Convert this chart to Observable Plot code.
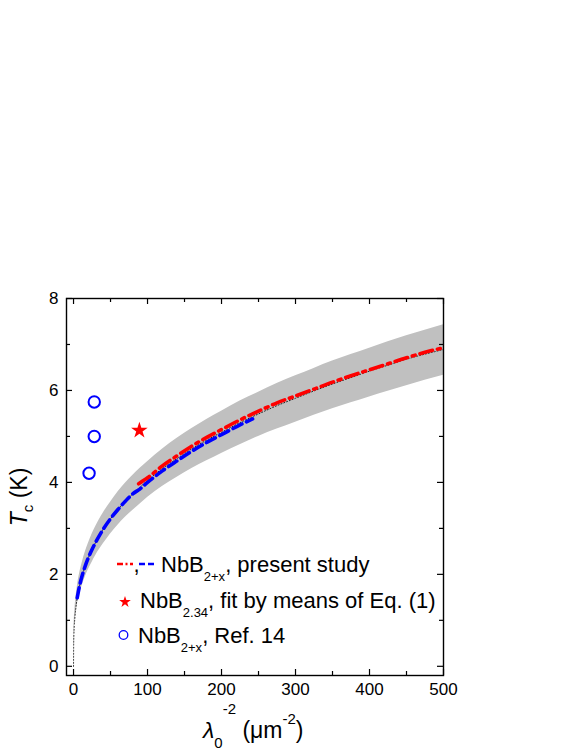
<!DOCTYPE html>
<html><head><meta charset="utf-8">
<script src="https://cdn.jsdelivr.net/npm/d3@7"></script>
<script src="https://cdn.jsdelivr.net/npm/@observablehq/plot@0.6"></script>
<style>body{margin:0;background:#fff}#chart{width:581px;height:752px}</style>
</head><body><div id="chart"></div>
<script>
// Fit curve (dotted) and its uncertainty band
const fitX = [0, 0.2, 0.5, 1, 2, 3, 5, 8, 12, 16, 20, 25, 30, 40, 50, 60, 70, 80, 90, 100, 120, 140, 160, 180, 200, 225, 250, 275, 300, 325, 350, 375, 400, 425, 450, 475, 500];
const fitY = [0, 0.51, 0.69, 0.87, 1.09, 1.25, 1.49, 1.74, 1.99, 2.19, 2.36, 2.54, 2.70, 2.98, 3.21, 3.41, 3.59, 3.75, 3.90, 4.04, 4.30, 4.52, 4.73, 4.92, 5.09, 5.30, 5.49, 5.67, 5.83, 5.99, 6.14, 6.28, 6.42, 6.55, 6.68, 6.79, 6.89];
const bandHigh = [0, 0.62, 0.83, 1.03, 1.28, 1.46, 1.72, 2.0, 2.27, 2.49, 2.67, 2.87, 3.04, 3.33, 3.57, 3.79, 3.98, 4.15, 4.31, 4.45, 4.72, 4.96, 5.17, 5.37, 5.55, 5.77, 5.96, 6.15, 6.32, 6.48, 6.64, 6.78, 6.92, 7.06, 7.19, 7.31, 7.43];
const bandLow = [0, 0.45, 0.62, 0.78, 0.98, 1.12, 1.33, 1.55, 1.77, 1.95, 2.10, 2.26, 2.41, 2.66, 2.88, 3.07, 3.24, 3.39, 3.53, 3.67, 3.91, 4.11, 4.30, 4.47, 4.63, 4.82, 5.0, 5.16, 5.31, 5.46, 5.6, 5.73, 5.86, 5.98, 6.1, 6.22, 6.33];
// NbB2+x present study: blue dashed
const blueX = [5, 8, 12, 16, 20, 25, 30, 40, 50, 60, 70, 80, 90, 100, 120, 140, 160, 180, 200, 225, 242];
const blueY = [1.49, 1.74, 1.99, 2.19, 2.36, 2.54, 2.70, 2.98, 3.21, 3.41, 3.59, 3.75, 3.86, 4.00, 4.25, 4.47, 4.68, 4.87, 5.04, 5.25, 5.38];
// NbB2+x present study: red dash-dot
const redX = [88, 100, 120, 140, 160, 180, 200, 225, 250, 275, 300, 325, 350, 375, 400, 425, 450, 475, 500];
const redY = [3.97, 4.10, 4.36, 4.58, 4.79, 4.98, 5.15, 5.36, 5.55, 5.73, 5.88, 6.03, 6.18, 6.32, 6.45, 6.58, 6.71, 6.83, 6.93];
// Ref. 14 (open circles) and NbB2.34 (star)
const refX = [28, 28, 21];
const refY = [5.75, 5.0, 4.2];
const starX = [89];
const starY = [5.13];
// ticks
const xTicks = [0, 100, 200, 300, 400, 500];
const xMinor = [50, 150, 250, 350, 450];
const yTicks = [0, 2, 4, 6, 8];
const yMinor = [1, 3, 5, 7];

const FONT = "'Liberation Sans', Arial, Helvetica, sans-serif";
const W = 581, H = 752;
const mT = 298, mB = 77, mL = 66, mR = 138;
const fw = W - mL - mR, fh = H - mT - mB;

const fit = fitX.map((x, i) => ({x, y: fitY[i], lo: bandLow[i], hi: bandHigh[i]}));
const blue = blueX.map((x, i) => ({x, y: blueY[i]}));
const red = redX.map((x, i) => ({x, y: redY[i]}));
const refs = refX.map((x, i) => ({x, y: refY[i]}));
const stars = starX.map((x, i) => ({x, y: starY[i]}));

const chart = Plot.plot({
  width: W, height: H,
  marginTop: mT, marginBottom: mB, marginLeft: mL, marginRight: mR,
  x: {domain: [-9.5, 500]},
  y: {domain: [-0.2, 8]},
  style: {fontFamily: FONT, fontSize: "17px", background: "white", color: "black"},
  marks: [
    Plot.areaY(fit, {x: "x", y1: "lo", y2: "hi", fill: "#c0c0c0", curve: "monotone-x"}),
    Plot.line(fit, {x: "x", y: "y", stroke: "#222", strokeWidth: 1, strokeDasharray: "1,2", curve: "monotone-x"}),
    Plot.line(blue, {x: "x", y: "y", stroke: "#0000ff", strokeWidth: 3.6, strokeDasharray: "10,5", curve: "monotone-x"}),
    Plot.line(red, {x: "x", y: "y", stroke: "#ff0000", strokeWidth: 3.6, strokeDasharray: "13,5,3,5", curve: "monotone-x"}),
    Plot.dot(refs, {x: "x", y: "y", r: 5.7, stroke: "#0000ff", strokeWidth: 2, fill: "none"}),
    Plot.dot(stars, {x: "x", y: "y", symbol: "star", r: 5.2, fill: "#ff0000", stroke: "none"}),
    Plot.frame({stroke: "black", strokeWidth: 1.4}),
    // inward ticks on all four sides
    Plot.ruleX(xTicks, {x: d => d, insetTop: fh - 6, stroke: "black", strokeWidth: 1.2}),
    Plot.ruleX(xTicks, {x: d => d, insetBottom: fh - 6, stroke: "black", strokeWidth: 1.2}),
    Plot.ruleX(xMinor, {x: d => d, insetTop: fh - 4, stroke: "black", strokeWidth: 1.2}),
    Plot.ruleX(xMinor, {x: d => d, insetBottom: fh - 4, stroke: "black", strokeWidth: 1.2}),
    Plot.ruleY(yTicks, {y: d => d, insetRight: fw - 6, stroke: "black", strokeWidth: 1.2}),
    Plot.ruleY(yTicks, {y: d => d, insetLeft: fw - 6, stroke: "black", strokeWidth: 1.2}),
    Plot.ruleY(yMinor, {y: d => d, insetRight: fw - 4, stroke: "black", strokeWidth: 1.2}),
    Plot.ruleY(yMinor, {y: d => d, insetLeft: fw - 4, stroke: "black", strokeWidth: 1.2}),
    Plot.axisX({ticks: xTicks, tickSize: 0, tickPadding: 7, fontSize: 17, tickFormat: d => String(d), label: null}),
    Plot.axisY({ticks: yTicks, tickSize: 0, tickPadding: 8, fontSize: 17, tickFormat: d => String(d), label: null})
  ]
});
document.getElementById("chart").appendChild(chart);

const svg = d3.select(chart.tagName.toLowerCase() === "svg" ? chart : chart.querySelector("svg"));
const g = svg.append("g").attr("font-family", FONT).attr("fill", "black").attr("text-anchor", "start");

// x-axis title
const xt = g.append("text").attr("x", 203).attr("y", 738).attr("font-size", 23);
xt.append("tspan").attr("font-style", "italic").text("λ");
xt.append("tspan").attr("font-size", 15).attr("dy", 10).text("0");
xt.append("tspan").attr("font-size", 15).attr("dy", -34).text("-2");
xt.append("tspan").attr("dy", 24).text(" (μm");
xt.append("tspan").attr("font-size", 15).attr("dy", -14).text("-2");
xt.append("tspan").attr("dy", 14).text(")");

// y-axis title
const yt = g.append("text").attr("transform", "translate(27,497) rotate(-90)").attr("text-anchor", "middle").attr("font-size", 23);
yt.append("tspan").attr("font-style", "italic").text("T");
yt.append("tspan").attr("font-size", 15).attr("dy", 6).text("c");
yt.append("tspan").attr("dy", -6).text(" (K)");

// legend
const L = g.append("g").attr("text-anchor", "start");
L.append("line").attr("x1", 117).attr("x2", 133).attr("y1", 564).attr("y2", 564)
  .attr("stroke", "#ff0000").attr("stroke-width", 2.6).attr("stroke-dasharray", "6,2.5,2,2.5");
L.append("text").attr("x", 133.5).attr("y", 572).attr("font-size", 22).text(",");
L.append("line").attr("x1", 139).attr("x2", 157).attr("y1", 564).attr("y2", 564)
  .attr("stroke", "#0000ff").attr("stroke-width", 2.6).attr("stroke-dasharray", "6,3");
function legendText(x, y, sub, rest) {
  const t = L.append("text").attr("x", x).attr("y", y).attr("font-size", 22);
  t.append("tspan").text("NbB");
  t.append("tspan").attr("font-size", 13).attr("dy", 9).text(sub);
  t.append("tspan").attr("dy", -9).text(rest);
}
legendText(161, 572, "2+x", ", present study");
L.append("path").attr("d", d3.symbol(d3.symbolStar, 42)()).attr("transform", "translate(125,602)").attr("fill", "#ff0000");
legendText(140, 608, "2.34", ", fit by means of Eq. (1)");
L.append("circle").attr("cx", 123.5).attr("cy", 635).attr("r", 4.3).attr("fill", "none").attr("stroke", "#0000ff").attr("stroke-width", 1.3);
legendText(138, 643, "2+x", ", Ref. 14");
</script>
</body></html>
